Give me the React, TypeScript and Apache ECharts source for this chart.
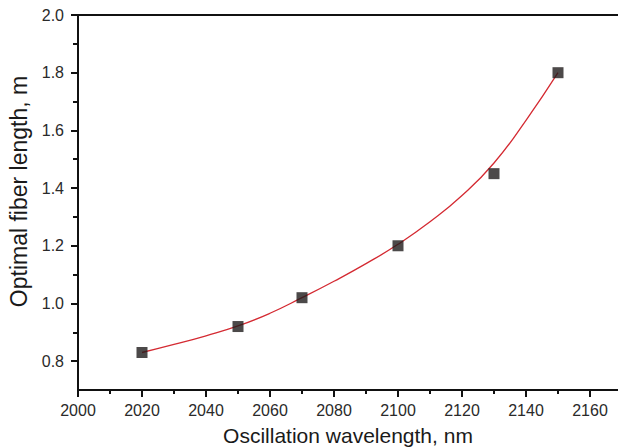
import React, { useEffect, useRef } from "react";
import * as echarts from "echarts";

const xMajorTicks = [2000, 2020, 2040, 2060, 2080, 2100, 2120, 2140, 2160];
const xMinorTicks = [2010, 2030, 2050, 2070, 2090, 2110, 2130, 2150];
const yMajorTicks = [0.8, 1.0, 1.2, 1.4, 1.6, 1.8, 2.0];
const yMinorTicks = [0.9, 1.1, 1.3, 1.5, 1.7, 1.9];

const wavelengths = [2020, 2050, 2070, 2100, 2130, 2150];
const fiberLengths = [0.83, 0.92, 1.02, 1.2, 1.45, 1.8];

const fitX = [2020, 2030, 2040, 2050, 2060, 2070, 2080, 2090, 2100, 2110, 2120, 2130, 2140, 2150];
const fitY = [0.83, 0.858, 0.888, 0.922, 0.966, 1.02, 1.077, 1.138, 1.205, 1.283, 1.374, 1.487, 1.635, 1.8];

const FONT = "Liberation Sans, Arial, Helvetica, sans-serif";

export default function App() {
  const ref = useRef<HTMLDivElement>(null);
  useEffect(() => {
    if (!ref.current) return;
    const chart = echarts.init(ref.current, null, { renderer: "svg" });
    const lineStyle = { color: "#111111", width: 2 };
    chart.setOption({
      animation: false,
      backgroundColor: "#ffffff",
      textStyle: { fontFamily: FONT },
      grid: {
        left: 78,
        top: 15,
        bottom: 58,
        right: 0,
        containLabel: false,
        outerBoundsMode: "none",
      },
      xAxis: [
        {
          type: "value",
          min: 2000,
          max: 2168.75,
          position: "bottom",
          axisLine: { show: true, onZero: false, lineStyle },
          axisTick: { show: true, length: 7, customValues: xMajorTicks, lineStyle },
          axisLabel: {
            customValues: xMajorTicks,
            formatter: (v: number) => String(v),
            fontSize: 16,
            color: "#2a2a2a",
            margin: 12,
            fontFamily: FONT,
          },
          splitLine: { show: false },
          name: "Oscillation wavelength, nm",
          nameLocation: "middle",
          nameGap: 35,
          nameTextStyle: { fontSize: 21, color: "#1a1a1a", fontFamily: FONT },
        },
        {
          type: "value",
          min: 2000,
          max: 2168.75,
          position: "bottom",
          axisLine: { show: false },
          axisTick: { show: true, length: 4, customValues: xMinorTicks, lineStyle },
          axisLabel: { show: false },
          splitLine: { show: false },
        },
        {
          type: "value",
          min: 2000,
          max: 2168.75,
          position: "top",
          axisLine: { show: true, onZero: false, lineStyle },
          axisTick: { show: false },
          axisLabel: { show: false },
          splitLine: { show: false },
        },
      ],
      yAxis: [
        {
          type: "value",
          min: 0.7,
          max: 2.0,
          position: "left",
          axisLine: { show: true, onZero: false, lineStyle },
          axisTick: { show: true, length: 7, customValues: yMajorTicks, lineStyle },
          axisLabel: {
            customValues: yMajorTicks,
            formatter: (v: number) => v.toFixed(1),
            fontSize: 16,
            color: "#2a2a2a",
            margin: 14,
            fontFamily: FONT,
          },
          splitLine: { show: false },
          name: "Optimal fiber length, m",
          nameLocation: "middle",
          nameGap: 43,
          nameTextStyle: {
            fontSize: 23,
            color: "#1a1a1a",
            fontFamily: FONT,
            padding: [0, 0, 0, 22],
          },
        },
        {
          type: "value",
          min: 0.7,
          max: 2.0,
          position: "left",
          axisLine: { show: false },
          axisTick: { show: true, length: 5, customValues: yMinorTicks, lineStyle },
          axisLabel: { show: false },
          splitLine: { show: false },
        },
      ],
      series: [
        {
          type: "line",
          xAxisIndex: 0,
          yAxisIndex: 0,
          smooth: 0.5,
          showSymbol: false,
          data: fitX.map((x, i) => [x, fitY[i]]),
          lineStyle: { color: "#d42a32", width: 1.3 },
          z: 2,
        },
        {
          type: "scatter",
          xAxisIndex: 0,
          yAxisIndex: 0,
          symbol: "rect",
          symbolSize: 11,
          data: wavelengths.map((x, i) => [x, fiberLengths[i]]),
          itemStyle: { color: "#1f1b1c" },
          z: 3,
        },
      ],
    });
    return () => chart.dispose();
  }, []);
  return (
    <div
      ref={ref}
      style={{ position: "absolute", left: 0, top: 0, width: 618, height: 448 }}
    />
  );
}
